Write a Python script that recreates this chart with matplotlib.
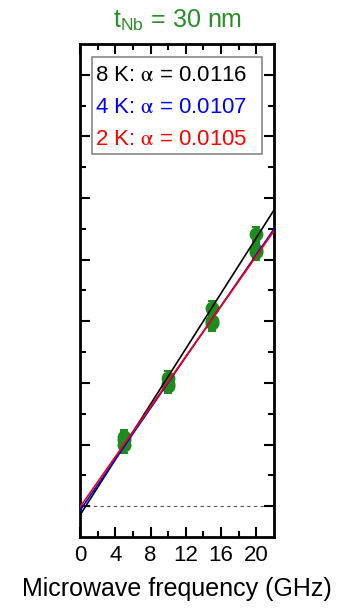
import numpy as np
import matplotlib.pyplot as plt

plt.rcParams['font.family'] = ['Liberation Sans', 'DejaVu Sans']
plt.rcParams['mathtext.fontset'] = 'stix'

# FMR linewidth vs frequency for the 30 nm Nb sample
freq = [5, 10, 15, 20]
width_8k = [19.8, 41.6, 64.3, 88.3]
width_4k = [22.4, 39.0, 59.4, 83.1]
width_2k = [21.6, 39.6, 60.0, 82.4]
width_err = [2.4, 2.4, 2.4, 2.4]

# linear fits: slope follows from the damping constant alpha
temps = ['8 K', '4 K', '2 K']
alphas = [0.0116, 0.0107, 0.0105]
offsets = [-2.9, -1.4, -0.3]
fit_colors = ['black', 'blue', 'red']
slope_per_alpha = 388.0

green = '#1E8B1E'

fig = plt.figure(figsize=(3.37, 6.08), dpi=100)
ax = fig.add_axes([0.2374, 0.1168, 0.5757, 0.8109])

for w in [width_8k, width_4k, width_2k]:
    ax.errorbar(freq, w, yerr=width_err, fmt='o', color=green, ms=9,
                elinewidth=1.5, capsize=3, capthick=1.5, zorder=2)

f_fit = np.array([0, 22])
for a, b, c in zip(alphas, offsets, fit_colors):
    ax.plot(f_fit, b + slope_per_alpha * a * f_fit, color=c, lw=1.2, zorder=3)

ax.axhline(0, color='#555555', lw=0.8, ls=(0, (3, 3)), zorder=1)

ax.set_xlim(0, 22)
ax.set_ylim(-10, 150)
ax.set_xticks([0, 4, 8, 12, 16, 20])
ax.set_xticks(np.arange(2, 22, 4), minor=True)
ax.set_yticks(np.arange(0, 150, 20))
ax.set_yticks(np.arange(10, 150, 20), minor=True)
ax.set_yticklabels([])
ax.tick_params(which='both', direction='in', top=True, right=True, width=1.5)
ax.tick_params(which='major', length=7)
ax.tick_params(which='minor', length=4)
ax.tick_params(axis='x', labelsize=16, pad=6)
for s in ax.spines.values():
    s.set_linewidth(2)

ax.set_xlabel('Microwave frequency (GHz)', fontsize=18, labelpad=8)

# damping values box
ax.add_patch(plt.Rectangle((0.062, 0.777), 0.876, 0.197, transform=ax.transAxes,
                           fill=False, edgecolor='#888888', lw=1.2, zorder=4))
for i, (t, a, c) in enumerate(zip(temps, alphas, fit_colors)):
    ax.text(0.077, 0.937 - i * 0.065, t + ': $\\mathrm{\\alpha}$ = ' + f'{a:.4f}',
            transform=ax.transAxes, color=c, fontsize=16, va='center', ha='left')

fig.text(0.528, 0.967, 't$_\\mathregular{Nb}$ = 30 nm', color='#2A8C2A',
         fontsize=18, ha='center', va='center')

fig.savefig('out.png', dpi=100)
